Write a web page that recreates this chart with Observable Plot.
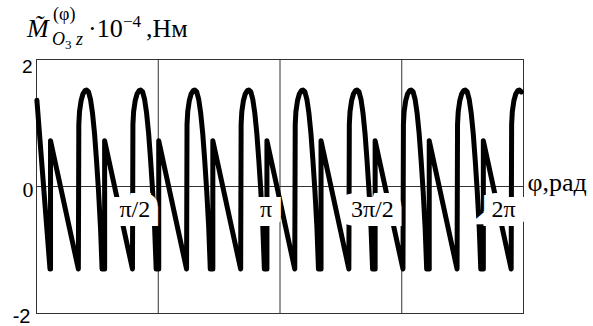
<!DOCTYPE html>
<html>
<head>
<meta charset="utf-8">
<script src="https://cdn.jsdelivr.net/npm/d3@7"></script>
<script src="https://cdn.jsdelivr.net/npm/@observablehq/plot@0.6"></script>
<style>
  html, body { margin: 0; padding: 0; background: #fff; }
  #chart { width: 593px; height: 326px; }
</style>
</head>
<body>
<div id="chart"></div>
<script>
// φ, rad
const phi = [
  0.005, 0.174,
  0.181, 0.181, 0.540, 0.546, 0.555, 0.575, 0.600, 0.626, 0.646, 0.671, 0.697, 0.723, 0.749, 0.775, 0.800, 0.826, 0.846,
  0.879, 0.879, 1.238, 1.244, 1.253, 1.273, 1.298, 1.324, 1.344, 1.369, 1.395, 1.421, 1.447, 1.473, 1.498, 1.524, 1.544,
  1.577, 1.577, 1.936, 1.942, 1.951, 1.971, 1.996, 2.022, 2.042, 2.067, 2.093, 2.119, 2.145, 2.171, 2.196, 2.222, 2.242,
  2.275, 2.275, 2.634, 2.640, 2.649, 2.669, 2.694, 2.720, 2.740, 2.765, 2.791, 2.817, 2.843, 2.869, 2.894, 2.920, 2.940,
  2.973, 2.973, 3.332, 3.338, 3.347, 3.367, 3.392, 3.418, 3.438, 3.463, 3.489, 3.515, 3.541, 3.567, 3.592, 3.618, 3.638,
  3.671, 3.671, 4.030, 4.036, 4.045, 4.065, 4.090, 4.116, 4.136, 4.161, 4.187, 4.213, 4.239, 4.265, 4.290, 4.316, 4.336,
  4.369, 4.369, 4.728, 4.734, 4.743, 4.763, 4.788, 4.814, 4.834, 4.859, 4.885, 4.911, 4.937, 4.963, 4.988, 5.014, 5.034,
  5.067, 5.067, 5.426, 5.432, 5.441, 5.461, 5.486, 5.512, 5.532, 5.557, 5.583, 5.609, 5.635, 5.661, 5.686, 5.712, 5.732,
  5.765, 5.765, 6.124, 6.130, 6.139, 6.159, 6.184, 6.210, 6.230, 6.255
];
// M·10^-4, N·m
const moment = [
  1.36, -1.30,
  -1.30, 0.72, -1.30, 0.98, 1.18, 1.35, 1.46, 1.51, 1.52, 1.49, 1.37, 1.15, 0.83, 0.40, -0.07, -0.65, -1.30,
  -1.30, 0.72, -1.30, 0.98, 1.18, 1.35, 1.46, 1.51, 1.52, 1.49, 1.37, 1.15, 0.83, 0.40, -0.07, -0.65, -1.30,
  -1.30, 0.72, -1.30, 0.98, 1.18, 1.35, 1.46, 1.51, 1.52, 1.49, 1.37, 1.15, 0.83, 0.40, -0.07, -0.65, -1.30,
  -1.30, 0.72, -1.30, 0.98, 1.18, 1.35, 1.46, 1.51, 1.52, 1.49, 1.37, 1.15, 0.83, 0.40, -0.07, -0.65, -1.30,
  -1.30, 0.72, -1.30, 0.98, 1.18, 1.35, 1.46, 1.51, 1.52, 1.49, 1.37, 1.15, 0.83, 0.40, -0.07, -0.65, -1.30,
  -1.30, 0.72, -1.30, 0.98, 1.18, 1.35, 1.46, 1.51, 1.52, 1.49, 1.37, 1.15, 0.83, 0.40, -0.07, -0.65, -1.30,
  -1.30, 0.72, -1.30, 0.98, 1.18, 1.35, 1.46, 1.51, 1.52, 1.49, 1.37, 1.15, 0.83, 0.40, -0.07, -0.65, -1.30,
  -1.30, 0.72, -1.30, 0.98, 1.18, 1.35, 1.46, 1.51, 1.52, 1.49, 1.37, 1.15, 0.83, 0.40, -0.07, -0.65, -1.30,
  -1.30, 0.72, -1.30, 0.98, 1.18, 1.35, 1.46, 1.51, 1.52, 1.49
];

const xTickValues = [Math.PI / 2, Math.PI, 3 * Math.PI / 2, 2 * Math.PI];
const xTickLabels = ["π/2", "π", "3π/2", "2π"];
const gridValues = [Math.PI / 2, Math.PI, 3 * Math.PI / 2];
const yTickValues = [2, 0, -2];
const yTickLabels = ["2", "0", "-2"];
const xAxisLabel = "φ,рад";

const data = phi.map((p, i) => ({phi: p, m: moment[i]}));
const xTicks = xTickValues.map((v, i) => ({v, label: xTickLabels[i]}));
const yTicks = yTickValues.map((v, i) => ({v, label: yTickLabels[i]}));

const serif = "'Liberation Serif', 'Times New Roman', serif";
const sans = "'Liberation Sans', Arial, sans-serif";

const plot = Plot.plot({
  width: 593,
  height: 326,
  marginLeft: 36,
  marginRight: 70,
  marginTop: 59,
  marginBottom: 13,
  x: {domain: [0, 2 * Math.PI], axis: null},
  y: {domain: [-2, 2], axis: null},
  style: {background: "white", overflow: "visible"},
  marks: [
    Plot.ruleX(gridValues, {stroke: "#333", strokeWidth: 1}),
    Plot.ruleY([0], {stroke: "#333", strokeWidth: 1}),
    Plot.frame({stroke: "#333", strokeWidth: 1}),
    Plot.line(data, {x: "phi", y: "m", stroke: "black", strokeWidth: 5, strokeLinejoin: "round", strokeLinecap: "round"}),
    Plot.text(xTicks, {
      x: "v", y: () => 0, text: "label",
      textAnchor: "end", lineAnchor: "bottom", dx: -8, dy: 30,
      fontSize: 24, fontFamily: serif, fill: "black",
      stroke: "white", strokeWidth: 18, strokeLinejoin: "miter", paintOrder: "stroke"
    }),
    Plot.text(yTicks.filter(d => d.v === 2), {
      y: "v", text: "label", frameAnchor: "left", textAnchor: "end", lineAnchor: "top",
      dx: -4, dy: 0, fontSize: 19, fontFamily: sans, fill: "black"
    }),
    Plot.text(yTicks.filter(d => d.v === -2), {
      y: "v", text: "label", frameAnchor: "left", textAnchor: "end", lineAnchor: "middle",
      dx: -6, dy: 3, fontSize: 20, fontFamily: sans, fill: "black"
    }),
    Plot.text(yTicks.filter(d => d.v === 0), {
      y: "v", text: "label", frameAnchor: "left", textAnchor: "end", lineAnchor: "middle",
      dx: -3, dy: 3, fontSize: 22, fontFamily: serif, fill: "black"
    }),
    Plot.text([xAxisLabel], {
      x: () => 2 * Math.PI, y: () => 0, text: d => d,
      textAnchor: "start", lineAnchor: "bottom", dx: 4, dy: 4,
      fontSize: 26, fontFamily: serif, fill: "black"
    })
  ]
});

// Title: M̃ (φ) O3 z ·10^-4, Нм — one text element with positioned tspans
const svg = d3.select(plot);
const t = svg.append("text")
  .attr("font-family", serif).attr("fill", "black").attr("text-anchor", "start");
t.append("tspan").attr("x", 27).attr("y", 37).attr("font-size", 26).attr("font-style", "italic").text("M\u0303");
t.append("tspan").attr("x", 53).attr("y", 20).attr("font-size", 18).text("(φ)");
t.append("tspan").attr("x", 52).attr("y", 45).attr("font-size", 18).attr("font-style", "italic").text("O");
t.append("tspan").attr("x", 65).attr("y", 49).attr("font-size", 13).text("3");
t.append("tspan").attr("x", 76).attr("y", 45).attr("font-size", 18).attr("font-style", "italic").text("z");
t.append("tspan").attr("x", 88).attr("y", 37).attr("font-size", 26).text("·10");
t.append("tspan").attr("x", 123).attr("y", 27).attr("font-size", 17).text("−4");
t.append("tspan").attr("x", 146).attr("y", 37).attr("font-size", 26).text(",Нм");

document.getElementById("chart").appendChild(plot);
</script>
</body>
</html>
